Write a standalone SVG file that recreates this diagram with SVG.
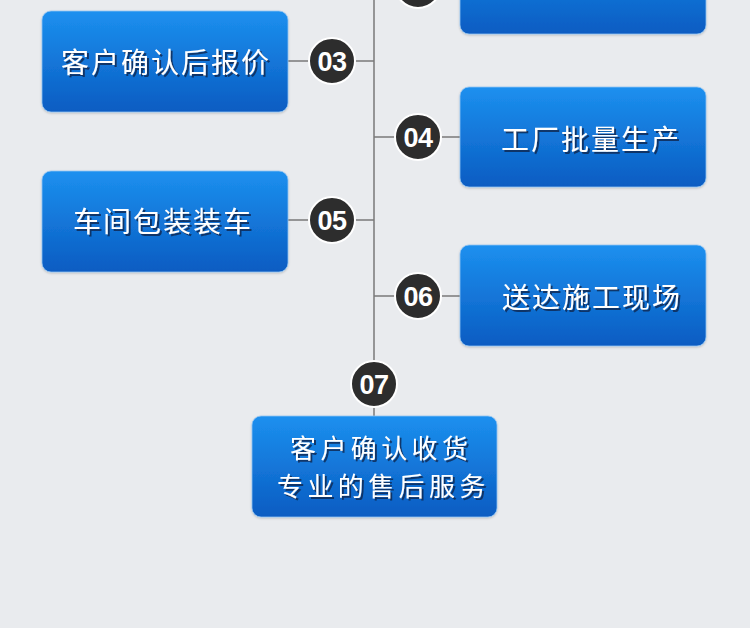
<svg xmlns="http://www.w3.org/2000/svg" width="750" height="628" viewBox="0 0 750 628">
<defs>
<linearGradient id="bg" x1="0" y1="0" x2="0" y2="1"><stop offset="0" stop-color="#1c90ef"/><stop offset="1" stop-color="#0a5cc2"/></linearGradient>
<filter id="sh" x="-10%" y="-30%" width="120%" height="160%"><feDropShadow dx="2" dy="2" stdDeviation="0.6" flood-color="#0a2a55" flood-opacity="0.85"/></filter>
<filter id="bs" x="-5%" y="-5%" width="110%" height="115%"><feDropShadow dx="0" dy="1" stdDeviation="1" flood-color="#000" flood-opacity="0.2"/></filter>
</defs>
<style>
.box{fill:url(#bg);stroke:#8fc3f3;stroke-width:0.8;filter:url(#bs)}
.t{font-family:"Noto Sans CJK SC","Noto Sans",sans-serif;font-size:28px;fill:#fff;letter-spacing:2px;filter:url(#sh)}
.t2{font-size:26px;letter-spacing:4.4px}
.c{fill:#2d2d2d;stroke:#fff;stroke-width:2}
.n{font-family:"Liberation Sans",Arial,sans-serif;font-weight:bold;font-size:27px;fill:#fff;text-anchor:middle;letter-spacing:-0.5px}
.l{stroke:#7a7a7a;stroke-width:1.5;fill:none}
</style>
<rect width="750" height="628" fill="#e9ebee"/>
<g id="connectors">
<path class="l" d="M374 0V416M288 61H374M374 137H460M288 220H374M374 296H460"/>
</g>
<g id="node02">
<rect class="box" x="460" y="-67" width="246" height="101" rx="9"/>
<circle class="c" cx="418" cy="-15" r="23"/>
</g>
<g id="node03">
<rect class="box" x="42" y="11" width="246" height="101" rx="9"/>
<text class="t" x="61" y="73">客户确认后报价</text>
<circle class="c" cx="332" cy="61" r="23"/>
<text class="n" x="332" y="71">03</text>
</g>
<g id="node04">
<rect class="box" x="460" y="87" width="246" height="100" rx="9"/>
<text class="t" x="501" y="150">工厂批量生产</text>
<circle class="c" cx="418" cy="137" r="23"/>
<text class="n" x="418" y="147">04</text>
</g>
<g id="node05">
<rect class="box" x="42" y="171" width="246" height="101" rx="9"/>
<text class="t" x="73" y="232">车间包装装车</text>
<circle class="c" cx="332" cy="220" r="23"/>
<text class="n" x="332" y="230">05</text>
</g>
<g id="node06">
<rect class="box" x="460" y="245" width="246" height="101" rx="9"/>
<text class="t" x="502" y="308">送达施工现场</text>
<circle class="c" cx="418" cy="296" r="23"/>
<text class="n" x="418" y="306">06</text>
</g>
<g id="node07">
<circle class="c" cx="374" cy="384" r="23"/>
<text class="n" x="374" y="394">07</text>
<rect class="box" x="252" y="416" width="245" height="101" rx="9"/>
<text class="t t2" x="290" y="458">客户确认收货</text>
<text class="t t2" x="277" y="496">专业的售后服务</text>
</g>
</svg>
